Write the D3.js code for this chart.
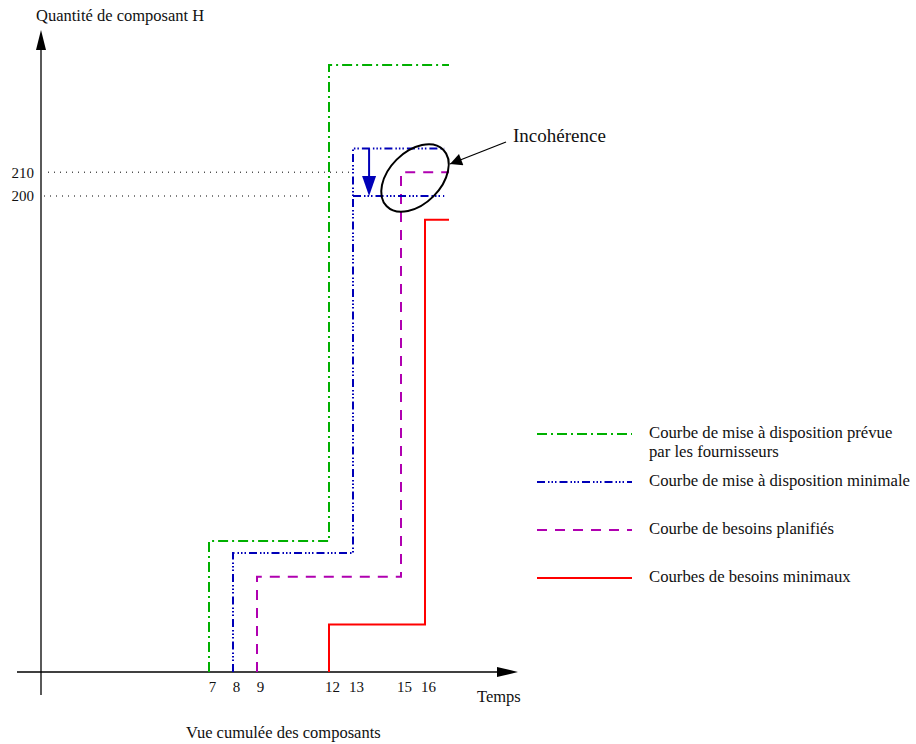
<!DOCTYPE html>
<html>
<head>
<meta charset="utf-8">
<script src="https://cdn.jsdelivr.net/npm/d3@7"></script>
<style>
  body { margin: 0; background: #fff; }
  svg text { font-family: 'Liberation Serif', 'DejaVu Serif', serif; fill: #111; }
</style>
</head>
<body>
<div id="chart"></div>
<script>
const width = 916
const height = 744

// step curves : time where each level starts, cumulative quantity
const greenT = [7, 12, 17]
const greenQ = [0, 55, 255]
const blueT = [8, 13, 16.8]
const blueQ = [0, 50, 220]
const magentaT = [9, 15, 17]
const magentaQ = [0, 40, 210]
const redT = [12, 16, 17]
const redQ = [0, 20, 190]

const timeTicks = [7, 8, 9, 12, 13, 15, 16]
const qtyTicks = [200, 210]

const legendLabels = [
  ['Courbe de mise à disposition prévue', 'par les fournisseurs'],
  ['Courbe de mise à disposition minimale'],
  ['Courbe de besoins planifiés'],
  ['Courbes de besoins minimaux']
]

const xScale = d3.scaleLinear().domain([0, 20]).range([41, 521])
const yScale = d3.scaleLinear().domain([0, 200]).range([672, 196])

const svg = d3
  .select('#chart')
  .append('svg')
  .attr('width', width)
  .attr('height', height)
  .attr('font-family', "'Liberation Serif', serif")

const defs = svg.append('defs')
defs.append('marker')
  .attr('id', 'head-black')
  .attr('viewBox', '0 0 10 10')
  .attr('refX', 10)
  .attr('refY', 5)
  .attr('markerUnits', 'userSpaceOnUse')
  .attr('markerWidth', 18)
  .attr('markerHeight', 12)
  .attr('orient', 'auto')
  .append('path')
  .attr('d', 'M0,0 L10,5 L0,10 Z')
  .attr('fill', '#000')

const series = [
  { t: greenT, q: greenQ, color: '#00b000', dash: '10,4,2,4', width: 2 },
  { t: blueT, q: blueQ, color: '#0000b8', dash: '8,3,1.5,2,1.5,2,1.5,3', width: 2 },
  { t: magentaT, q: magentaQ, color: '#b000b0', dash: '10,8', width: 2 },
  { t: redT, q: redQ, color: '#ff0000', dash: null, width: 2 }
]

const line = d3.line()
  .x(d => xScale(d[0]))
  .y(d => yScale(d[1]))
  .curve(d3.curveStepBefore)

// dotted reference lines for 210 and 200
svg.append('line')
  .attr('x1', 48).attr('x2', xScale(13))
  .attr('y1', yScale(210)).attr('y2', yScale(210))
  .attr('stroke', '#000').attr('stroke-width', 1)
  .attr('stroke-dasharray', '1,5')
svg.append('line')
  .attr('x1', 44).attr('x2', 310)
  .attr('y1', yScale(200)).attr('y2', yScale(200))
  .attr('stroke', '#000').attr('stroke-width', 1)
  .attr('stroke-dasharray', '1,5')

// axes
svg.append('line')
  .attr('x1', xScale(0)).attr('x2', xScale(0))
  .attr('y1', 695).attr('y2', 45)
  .attr('stroke', '#000').attr('stroke-width', 1.3)
svg.append('path')
  .attr('d', `M${xScale(0) - 5},50 L${xScale(0)},30 L${xScale(0) + 5},50 Z`)
  .attr('fill', '#000')

svg.append('line')
  .attr('x1', xScale(-1)).attr('x2', 500)
  .attr('y1', yScale(0)).attr('y2', yScale(0))
  .attr('stroke', '#000').attr('stroke-width', 1.3)
svg.append('path')
  .attr('d', `M497,${yScale(0) - 5} L518,${yScale(0)} L497,${yScale(0) + 5} Z`)
  .attr('fill', '#000')

const xAxis = d3.axisBottom(xScale).tickValues(timeTicks).tickSize(0).tickPadding(9)
const gx = svg.append('g')
  .attr('transform', `translate(3,${yScale(0)})`)
  .call(xAxis)
gx.select('.domain').remove()
gx.selectAll('text').attr('font-size', 15).style('font-family', "'Liberation Serif', serif")

const yAxis = d3.axisLeft(yScale).tickValues(qtyTicks).tickSize(0).tickPadding(7)
const gy = svg.append('g')
  .attr('transform', `translate(${xScale(0)},0)`)
  .call(yAxis)
gy.select('.domain').remove()
gy.selectAll('text').attr('font-size', 15).style('font-family', "'Liberation Serif', serif")

// step curves
series.forEach(s => {
  const pts = s.t.map((t, i) => [t, s.q[i]])
  svg.append('path')
    .attr('d', line(pts))
    .attr('fill', 'none')
    .attr('stroke', s.color)
    .attr('stroke-width', s.width)
    .attr('stroke-dasharray', s.dash)
})

// lower blue bound at 200
svg.append('line')
  .attr('x1', xScale(blueT[1])).attr('x2', xScale(blueT[2]))
  .attr('y1', yScale(200)).attr('y2', yScale(200))
  .attr('stroke', '#0000b8').attr('stroke-width', 2)
  .attr('stroke-dasharray', '8,3,1.5,2,1.5,2,1.5,3')

// blue arrow from 220 down to 200
const ax = xScale(13.67)
svg.append('line')
  .attr('x1', ax).attr('x2', ax)
  .attr('y1', yScale(220)).attr('y2', yScale(200) - 16)
  .attr('stroke', '#0000b8').attr('stroke-width', 2)
svg.append('path')
  .attr('d', `M${ax - 7},${yScale(200) - 20} L${ax},${yScale(200)} L${ax + 7},${yScale(200) - 20} Z`)
  .attr('fill', '#0000b8')

// incoherence ellipse and callout
svg.append('ellipse')
  .attr('cx', 0).attr('cy', 0)
  .attr('rx', 40).attr('ry', 26)
  .attr('transform', 'translate(415,178) rotate(-45)')
  .attr('fill', 'none')
  .attr('stroke', '#000')
  .attr('stroke-width', 2)

svg.append('line')
  .attr('x1', 506).attr('y1', 142)
  .attr('x2', 450).attr('y2', 164)
  .attr('stroke', '#000').attr('stroke-width', 1.3)
  .attr('marker-end', 'url(#head-black)')

svg.append('text')
  .attr('x', 513).attr('y', 142)
  .attr('font-size', 19)
  .text('Incohérence')

// axis titles
svg.append('text')
  .attr('x', 36).attr('y', 21)
  .attr('font-size', 16.5)
  .text('Quantité de composant H')
svg.append('text')
  .attr('x', 477).attr('y', 702)
  .attr('font-size', 16.5)
  .text('Temps')
svg.append('text')
  .attr('x', 186).attr('y', 738)
  .attr('font-size', 16.5)
  .text('Vue cumulée des composants')

// legend
const legendY = d3.scalePoint().domain(d3.range(series.length)).range([434, 578])
series.forEach((s, i) => {
  const y = legendY(i)
  svg.append('line')
    .attr('x1', 537).attr('x2', 632)
    .attr('y1', y).attr('y2', y)
    .attr('stroke', s.color)
    .attr('stroke-width', s.width)
    .attr('stroke-dasharray', s.dash)
  const txt = svg.append('text')
    .attr('x', 649).attr('y', y + 4)
    .attr('font-size', 16.7)
  legendLabels[i].forEach((l, j) => {
    txt.append('tspan')
      .attr('x', 649)
      .attr('dy', j === 0 ? 0 : 19)
      .text(l)
  })
})
</script>
</body>
</html>
